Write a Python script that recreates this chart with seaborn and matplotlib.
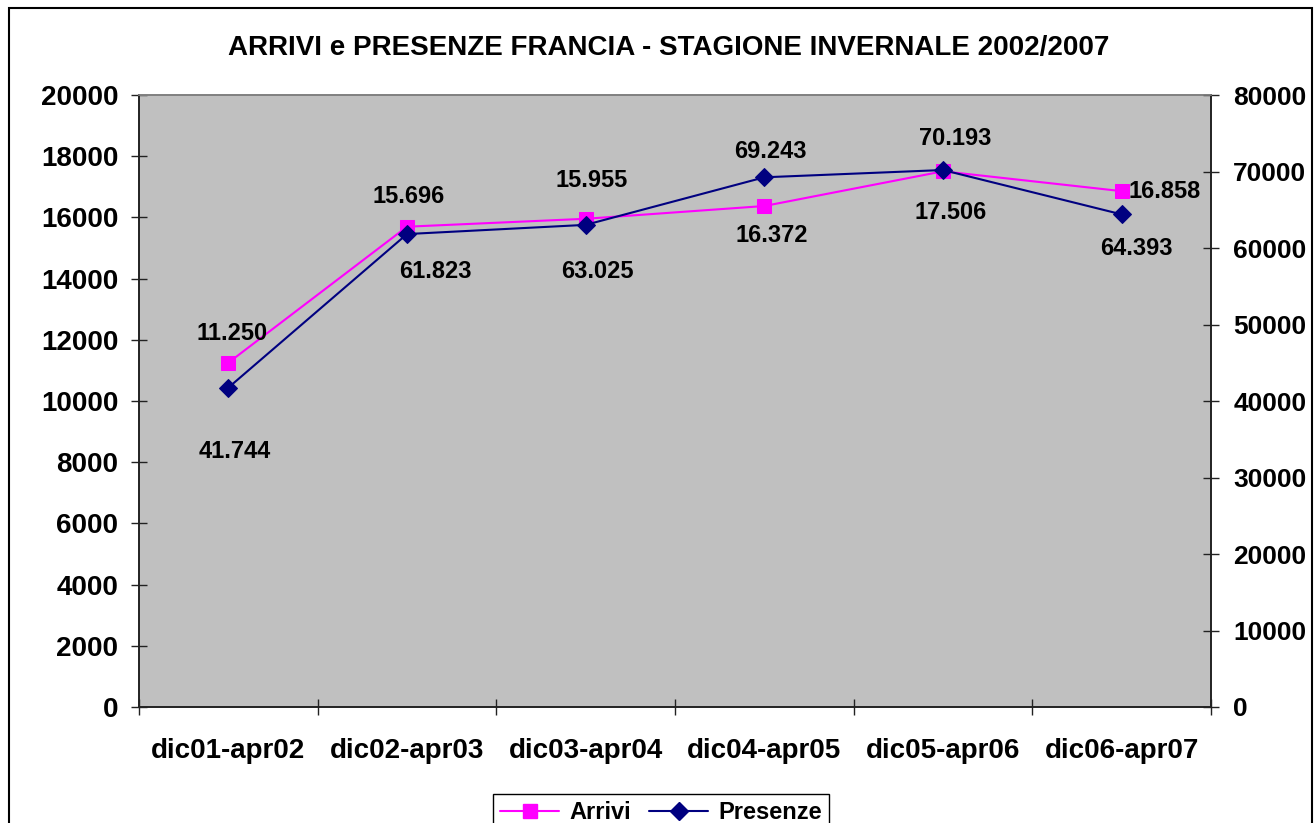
import numpy as np
import pandas as pd
import matplotlib
matplotlib.use("Agg")
import matplotlib.pyplot as plt
from matplotlib.patches import Rectangle
from matplotlib.lines import Line2D
import seaborn as sns

# data
stagioni = ["dic01-apr02", "dic02-apr03", "dic03-apr04",
            "dic04-apr05", "dic05-apr06", "dic06-apr07"]
arrivi = [11250, 15696, 15955, 16372, 17506, 16858]
presenze = [41744, 61823, 63025, 69243, 70193, 64393]
arrivi_lbl = ["11.250", "15.696", "15.955", "16.372", "17.506", "16.858"]
presenze_lbl = ["41.744", "61.823", "63.025", "69.243", "70.193", "64.393"]

# label offsets (pixels) relative to the point
arrivi_off = [(4, 29), (2, 30), (6, 38), (7, -29), (8, -41), (43, 0)]
presenze_off = [(6, -64), (28, -37), (12, -47), (6, 26), (12, 32), (15, -34)]

sns.set_style("ticks")
plt.rcParams['font.family'] = ['Liberation Sans', 'DejaVu Sans']
plt.rcParams['font.weight'] = 'bold'
plt.rcParams['text.color'] = 'black'
plt.rcParams['xtick.labelcolor'] = 'black'
plt.rcParams['ytick.labelcolor'] = 'black'

df = pd.DataFrame({"pos": np.arange(len(stagioni)), "Arrivi": arrivi, "Presenze": presenze})

fig = plt.figure(figsize=(13.14, 8.23), dpi=100)
ax = fig.add_axes([139/1314, 1-707/823, (1211-139)/1314, (707-95)/823])
ax.set_facecolor("#C0C0C0")
ax2 = ax.twinx()

sns.lineplot(data=df, x="pos", y="Arrivi", ax=ax, color="#FF00FF", marker="s",
             markersize=10, linewidth=1.5, markeredgecolor="#FF00FF", sort=False)
sns.lineplot(data=df, x="pos", y="Presenze", ax=ax2, color="#000080", marker="D",
             markersize=9, linewidth=1.5, markeredgecolor="#000080", sort=False)

ax.set_xlim(-0.5, len(stagioni) - 0.5)
ax.set_ylim(0, 20000)
ax2.set_ylim(0, 80000)
ax.set_yticks(np.arange(0, 20001, 2000))
ax2.set_yticks(np.arange(0, 80001, 10000))
ax.set_xticks(np.arange(len(stagioni)))
ax.set_xticklabels(stagioni)
ax.set_xticks(np.arange(-0.5, len(stagioni)), minor=True)
ax.set_xlabel("")
ax.set_ylabel("")
ax2.set_ylabel("")

ax.tick_params(axis="x", which="major", length=0, pad=22, labelsize=20)
ax.tick_params(axis="x", which="minor", direction="inout", length=12, width=1, color="#222222")
ax.tick_params(axis="y", direction="inout", length=12, width=1, pad=9, labelsize=20, color="#222222")
ax2.tick_params(axis="y", direction="inout", length=12, width=1, pad=10, labelsize=19, color="#222222")
for a in (ax, ax2):
    for lab in a.get_xticklabels() + a.get_yticklabels():
        lab.set_fontweight("bold")
    for s in a.spines.values():
        s.set_linewidth(1.2)
        s.set_color("#222222")
    a.spines["top"].set_color("#808080")

for i in range(len(stagioni)):
    ax.annotate(arrivi_lbl[i], (i, arrivi[i]), xytext=arrivi_off[i], textcoords="offset pixels",
                ha="center", va="center", fontsize=17, fontweight="bold")
    ax2.annotate(presenze_lbl[i], (i, presenze[i]), xytext=presenze_off[i], textcoords="offset pixels",
                 ha="center", va="center", fontsize=17, fontweight="bold")

fig.suptitle("ARRIVI e PRESENZE FRANCIA - STAGIONE INVERNALE 2002/2007",
             x=669/1314, y=1-48/823, va="center", fontsize=20, fontweight="bold")

handles = [Line2D([], [], color="#FF00FF", marker="s", markersize=10, linewidth=1.5),
           Line2D([], [], color="#000080", marker="D", markersize=9, linewidth=1.5)]
fig.legend(handles, ["Arrivi", "Presenze"], loc="upper center", bbox_to_anchor=(661/1314, 1-782/823),
           ncol=2, frameon=True, fancybox=False, edgecolor="black", framealpha=1,
           prop={"size": 17, "weight": "bold"}, handlelength=2.5, columnspacing=0.8,
           handletextpad=0.4, borderpad=0.3)

fig.patches.append(Rectangle((9/1314, -0.05), (1312-9)/1314, 1.05 - 8/823, transform=fig.transFigure,
                             fill=False, edgecolor="black", linewidth=1.5, clip_on=False))

fig.savefig("out.png", dpi=100)
